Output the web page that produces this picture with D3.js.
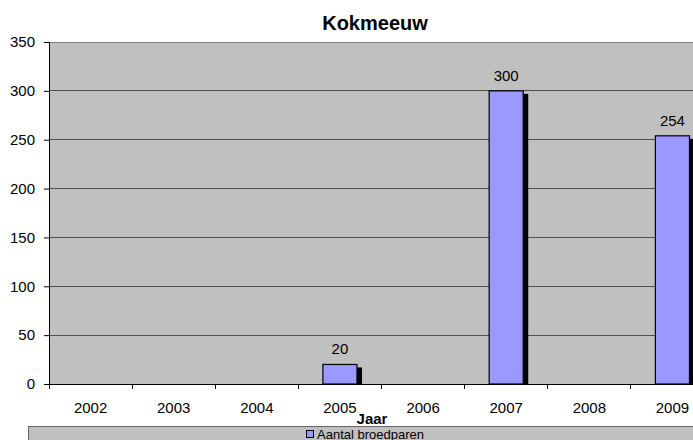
<!DOCTYPE html>
<html>
<head>
<meta charset="utf-8">
<script src="https://cdn.jsdelivr.net/npm/d3@7"></script>
<style>
  body { margin: 0; background: #fff; }
  svg text { font-family: "Liberation Sans", Arial, sans-serif; fill: #000; }
</style>
</head>
<body>
<div id="chart"></div>
<script>
// data
var years = ['2002', '2003', '2004', '2005', '2006', '2007', '2008', '2009'];
var pairs = [0, 0, 0, 20, 0, 300, 0, 254];
var yTicks = [0, 50, 100, 150, 200, 250, 300, 350];

var W = 693, H = 440;
var margin = {top: 42, left: 49};
var plotW = 665, plotH = 342;

var svg = d3.select('#chart').append('svg')
    .attr('width', W).attr('height', H);

var xScale = d3.scaleBand()
    .domain(years)
    .range([0, plotW])
    .paddingInner(0.59).paddingOuter(0.295);
var xTickScale = d3.scalePoint()
    .domain(d3.range(years.length + 1))
    .range([0, plotW]);
var yScale = d3.scaleLinear()
    .domain([0, 350])
    .range([plotH, 0]);

var chart = svg.append('g')
    .attr('transform', 'translate(' + margin.left + ',' + margin.top + ')');

// plot background
chart.append('rect')
    .attr('width', plotW).attr('height', plotH)
    .attr('fill', '#c0c0c0');

// grid lines
chart.selectAll('line.grid')
    .data(yTicks.slice(1))
    .enter().append('line').classed('grid', true)
    .attr('x1', 0).attr('x2', plotW)
    .attr('y1', function(d) { return yScale(d); })
    .attr('y2', function(d) { return yScale(d); })
    .attr('stroke', function(d) { return d === 350 ? '#808080' : '#505050'; })
    .attr('stroke-width', 1)
    .attr('shape-rendering', 'crispEdges');

// y axis
var yAxis = d3.axisLeft(yScale).tickValues(yTicks).tickSize(5).tickPadding(9);
var yG = chart.append('g').call(yAxis);
yG.select('.domain').remove();
yG.selectAll('line').attr('stroke', '#000');
yG.selectAll('text').style('font-size', '15px');
chart.append('line')
    .attr('x1', 0).attr('x2', 0).attr('y1', 0).attr('y2', plotH)
    .attr('stroke', '#000').attr('shape-rendering', 'crispEdges');

// x axis
chart.append('line')
    .attr('x1', 0).attr('x2', plotW).attr('y1', plotH).attr('y2', plotH)
    .attr('stroke', '#000').attr('shape-rendering', 'crispEdges');
chart.selectAll('line.xtick')
    .data(xTickScale.domain())
    .enter().append('line').classed('xtick', true)
    .attr('x1', function(d) { return xTickScale(d); })
    .attr('x2', function(d) { return xTickScale(d); })
    .attr('y1', plotH).attr('y2', plotH + 5)
    .attr('stroke', '#000').attr('shape-rendering', 'crispEdges');
chart.selectAll('text.xlab')
    .data(years)
    .enter().append('text').classed('xlab', true)
    .attr('x', function(d) { return xScale(d) + xScale.bandwidth() / 2; })
    .attr('y', plotH + 29)
    .attr('text-anchor', 'middle')
    .style('font-size', '15px')
    .text(function(d) { return d; });

// bars with shadow
var bars = chart.selectAll('g.bar')
    .data(years.map(function(y, i) { return {year: y, value: pairs[i]}; })
        .filter(function(d) { return d.value > 0; }))
    .enter().append('g').classed('bar', true);
bars.append('rect')
    .attr('x', function(d) { return xScale(d.year) + 5; })
    .attr('y', function(d) { return yScale(d.value) + 3; })
    .attr('width', xScale.bandwidth())
    .attr('height', function(d) { return plotH - yScale(d.value) - 3; })
    .attr('fill', '#000');
bars.append('rect')
    .attr('x', function(d) { return xScale(d.year); })
    .attr('y', function(d) { return yScale(d.value); })
    .attr('width', xScale.bandwidth())
    .attr('height', function(d) { return plotH - yScale(d.value); })
    .attr('fill', '#9999ff')
    .attr('stroke', '#000')
    .attr('stroke-width', 1.2);
bars.append('text')
    .attr('x', function(d) { return xScale(d.year) + xScale.bandwidth() / 2; })
    .attr('y', function(d) { return yScale(d.value) - 10; })
    .attr('text-anchor', 'middle')
    .style('font-size', '15px')
    .text(function(d) { return d.value; });

// title
svg.append('text')
    .attr('x', 375).attr('y', 30)
    .attr('text-anchor', 'middle')
    .style('font-size', '20px').style('font-weight', 'bold')
    .text('Kokmeeuw');

// x axis title
svg.append('text')
    .attr('x', 372).attr('y', 424)
    .attr('text-anchor', 'middle')
    .style('font-size', '15px').style('font-weight', 'bold')
    .text('Jaar');

// legend
svg.append('rect')
    .attr('x', 28.5).attr('y', 426.5)
    .attr('width', 700).attr('height', 30)
    .attr('fill', '#c0c0c0').attr('stroke', '#666');
svg.append('rect')
    .attr('x', 306.5).attr('y', 430.5)
    .attr('width', 7).attr('height', 7)
    .attr('fill', '#9999ff').attr('stroke', '#000');
svg.append('text')
    .attr('x', 317).attr('y', 439)
    .style('font-size', '13px')
    .text('Aantal broedparen');
</script>
</body>
</html>
